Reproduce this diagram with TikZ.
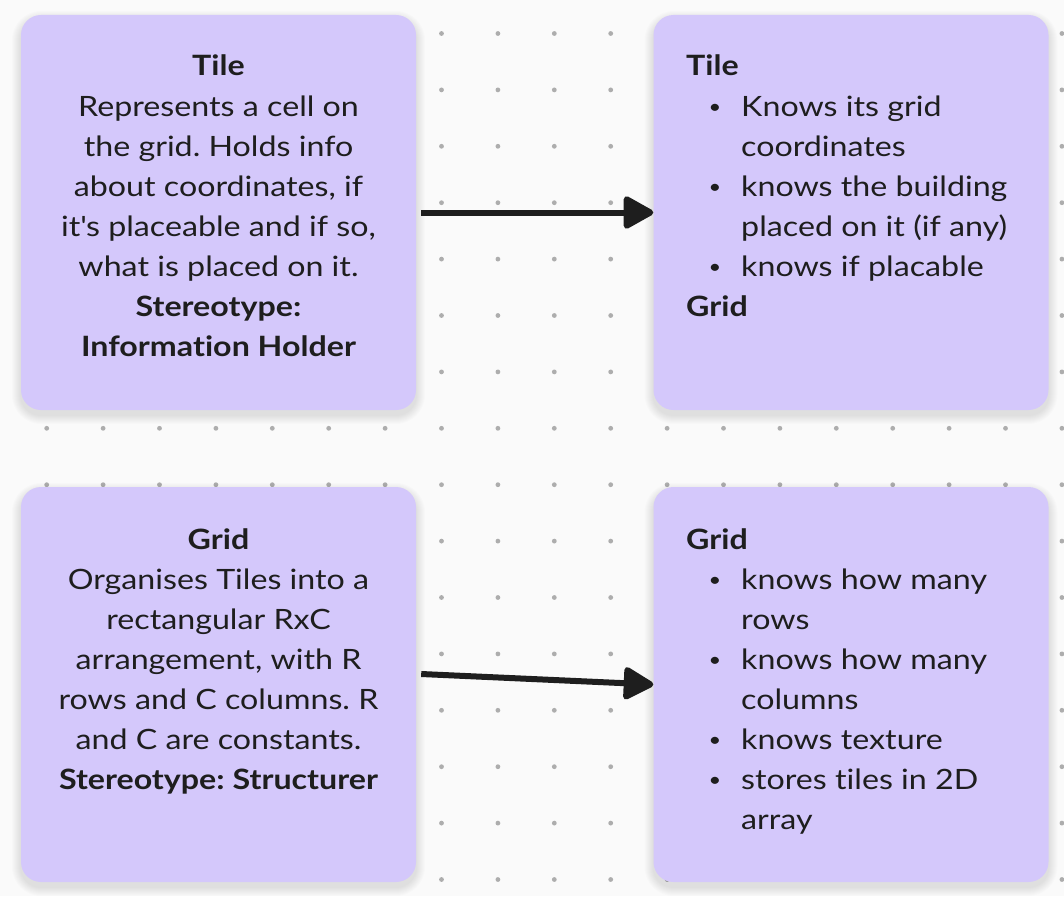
\documentclass[tikz,border=0pt]{standalone}
\usepackage{fontspec}
\setmainfont{Lato}[FakeStretch=1.15,Ligatures=NoCommon]
\usetikzlibrary{arrows.meta}
\definecolor{bg}{HTML}{FAFAFA}
\definecolor{cardc}{HTML}{D4C8FB}
\definecolor{dotc}{HTML}{ADADAD}
\definecolor{ink}{HTML}{1E1E1E}
\tikzset{
  card/.style={fill=cardc, rounded corners=20pt, minimum width=395pt, minimum height=395pt,
    inner sep=0pt, draw=none},
  shadowlayer/.style={fill=black, opacity=0.012},
  txt/.style={font=\fontsize{28}{40}\selectfont, text=ink, inner sep=0pt},
  cline/.style={txt, anchor=base},
  lline/.style={txt, anchor=base west},
  bul/.style={font=\fontsize{19}{20}\selectfont, text=ink, inner sep=0pt, anchor=base},
  conn/.style={draw=ink, line width=6pt, -{Triangle[length=33pt,width=35pt,round]}},
}
\frenchspacing
\begin{document}
\begin{tikzpicture}[x=1pt,y=-1pt]
\fill[bg] (0,0) rectangle (1064,896);
\useasboundingbox (0,0) rectangle (1064,896);
\foreach \i in {0,...,18} \foreach \j in {0,...,15}
  \fill[dotc] (46.7+56.4*\i, 33.5+56.4*\j) circle (2.4pt);

% soft shadows under the cards
\foreach \cx/\cy in {218.5/212.5, 851/212.5, 218.5/684.5, 851/684.5}
  \foreach \k in {1,...,9}
    \fill[shadowlayer, rounded corners=20+\k] (\cx-197.5-\k, \cy-197.5-\k+5) rectangle (\cx+197.5+\k, \cy+197.5+\k+5);

\node[card] (TL) at (218.5,212.5) {};
\node[card] (TR) at (851,212.5) {};
\node[card] (BL) at (218.5,684.5) {};
\node[card] (BR) at (851,684.5) {};

% top-left text
\foreach \t [count=\i] in {{\textbf{Tile}},{Represents a cell on},{the grid. Holds info},{about coordinates, if},{it\textquotesingle s placeable and if so,},{what is placed on it.},{\textbf{Stereotype:}},{\textbf{Information Holder}}}
  \node[cline] (tl\i) at (218.5, 76+40.1*\i-40.1) {\t};

% bottom-left text
\foreach \t [count=\i] in {{\textbf{Grid}},{Organises Tiles into a},{rectangular RxC},{arrangement, with R},{rows and C columns. R},{and C are constants.},{\textbf{Stereotype: Structurer}}}
  \node[cline] (bl\i) at (218.5, 549+40.1*\i-40.1) {\t};

% top-right text
\node[lline] (trh) at (686,76) {\textbf{Tile}};
\foreach \t/\b [count=\i] in {{Knows its grid}/1,{coordinates}/0,{knows the building}/1,{placed on it (if any)}/0,{knows if placable}/1}{
  \node[lline] (tr\i) at (741, 76+40.1*\i) {\t};
  \ifnum\b=1 \node[bul] (trb\i) at (715, 76+40.1*\i-3) {\textbullet}; \fi
}
\node[lline] (trg) at (686,76+40.1*6) {\textbf{Grid}};

% bottom-right text
\node[lline] (brh) at (686,549) {\textbf{Grid}};
\foreach \t/\b [count=\i] in {{knows how many}/1,{rows}/0,{knows how many}/1,{columns}/0,{knows texture}/1,{stores tiles in 2D}/1,{array}/0}{
  \node[lline] (br\i) at (741, 549+40.1*\i) {\t};
  \ifnum\b=1 \node[bul] (brb\i) at (715, 549+40.1*\i-3) {\textbullet}; \fi
}

% connectors
\draw[conn] ([xshift=5pt]TL.east) -- (TR.west);
\draw[conn] ([xshift=5pt,yshift=10.5pt]BL.east) -- (BR.west);
\end{tikzpicture}
\end{document}
